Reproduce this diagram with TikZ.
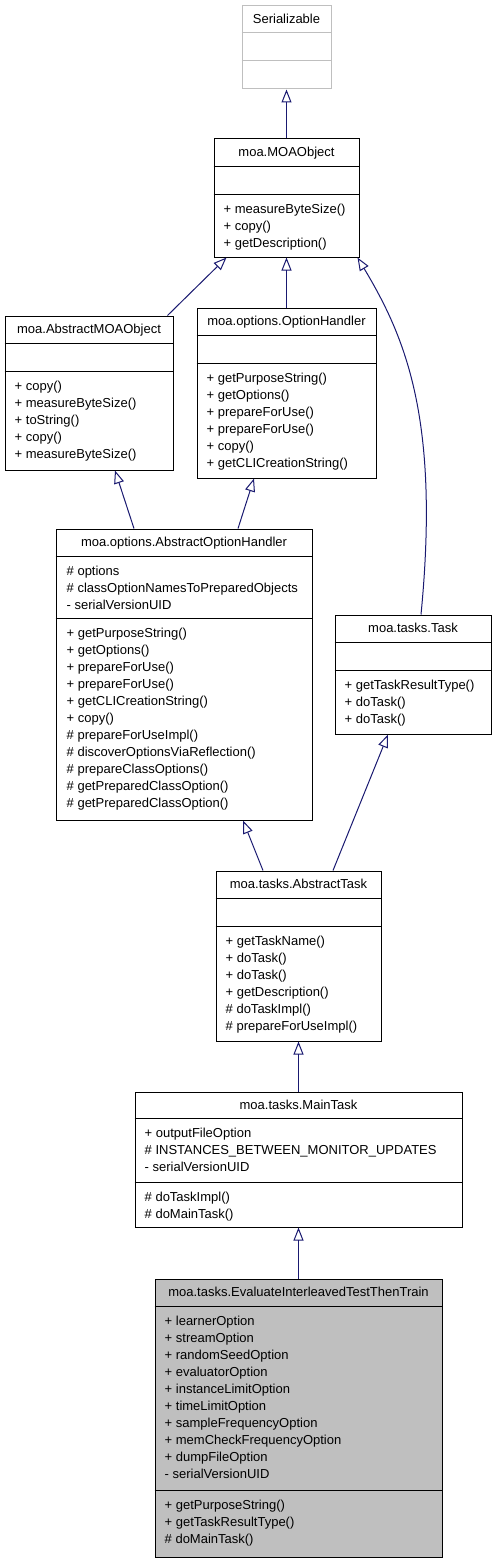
\documentclass[tikz,border=0pt]{standalone}
\usepackage{fontspec}
\setmainfont{Liberation Sans}
\usetikzlibrary{arrows.meta}
\definecolor{aresta}{HTML}{191970}
\definecolor{cinza}{HTML}{BFBFBF}

\begin{document}
\begin{tikzpicture}[x=1pt, y=-1pt, > = {Triangle[open, length=13pt, width=10pt]}, font=\fontsize{13pt}{17pt}\selectfont]
        \tikzstyle{classe}=[rectangle, draw, line width=1pt, inner sep=0pt]
        \tikzstyle{titulo}=[anchor=base, inner sep=0pt]
        \tikzstyle{membros}=[anchor=north west, align=left, inner sep=0pt]
        \tikzstyle{divisao}=[line width=1pt]
        \tikzstyle{heranca}=[->, draw=aresta, line width=1pt]

        \useasboundingbox (0,0) rectangle (496,1560);

            % Classes
            \node[classe, draw=cinza, minimum width=89pt, minimum height=83pt] (serializable) at (286.5,47.5) {};
            \node[classe, minimum width=145pt, minimum height=118pt] (moaobject) at (286.5,198) {};
            \node[classe, minimum width=168pt, minimum height=154pt] (abstractmoaobject) at (89,393) {};
            \node[classe, minimum width=179pt, minimum height=170pt] (optionhandler) at (286.5,393) {};
            \node[classe, minimum width=256pt, minimum height=291pt] (abstractoptionhandler) at (184,674.5) {};
            \node[classe, minimum width=156pt, minimum height=119pt] (task) at (413,674.5) {};
            \node[classe, minimum width=165pt, minimum height=170pt] (abstracttask) at (298.5,956) {};
            \node[classe, minimum width=327pt, minimum height=135pt] (maintask) at (298.5,1159.5) {};
            \node[classe, fill=cinza, minimum width=287pt, minimum height=278pt] (evaluate) at (298.5,1418) {};

            % Divisoes
            \draw[divisao, cinza] ([yshift=-27pt]serializable.north west) -- ([yshift=-27pt]serializable.north east)
                ([yshift=-55pt]serializable.north west) -- ([yshift=-55pt]serializable.north east);
            \draw[divisao] ([yshift=-28pt]moaobject.north west) -- ([yshift=-28pt]moaobject.north east)
                ([yshift=-56pt]moaobject.north west) -- ([yshift=-56pt]moaobject.north east);
            \draw[divisao] ([yshift=-28pt]abstractmoaobject.north west) -- ([yshift=-28pt]abstractmoaobject.north east)
                ([yshift=-56pt]abstractmoaobject.north west) -- ([yshift=-56pt]abstractmoaobject.north east);
            \draw[divisao] ([yshift=-28pt]optionhandler.north west) -- ([yshift=-28pt]optionhandler.north east)
                ([yshift=-56pt]optionhandler.north west) -- ([yshift=-56pt]optionhandler.north east);
            \draw[divisao] ([yshift=-28pt]abstractoptionhandler.north west) -- ([yshift=-28pt]abstractoptionhandler.north east)
                ([yshift=-90pt]abstractoptionhandler.north west) -- ([yshift=-90pt]abstractoptionhandler.north east);
            \draw[divisao] ([yshift=-28pt]task.north west) -- ([yshift=-28pt]task.north east)
                ([yshift=-56pt]task.north west) -- ([yshift=-56pt]task.north east);
            \draw[divisao] ([yshift=-28pt]abstracttask.north west) -- ([yshift=-28pt]abstracttask.north east)
                ([yshift=-56pt]abstracttask.north west) -- ([yshift=-56pt]abstracttask.north east);
            \draw[divisao] ([yshift=-27pt]maintask.north west) -- ([yshift=-27pt]maintask.north east)
                ([yshift=-91pt]maintask.north west) -- ([yshift=-91pt]maintask.north east);
            \draw[divisao] ([yshift=-28pt]evaluate.north west) -- ([yshift=-28pt]evaluate.north east)
                ([yshift=-212pt]evaluate.north west) -- ([yshift=-212pt]evaluate.north east);

            % Textos
            \node[titulo] (serializable-t) at ([yshift=-18.3pt]serializable.north) {Serializable};

            \node[titulo] (moaobject-t) at ([yshift=-18.3pt]moaobject.north) {moa.MOAObject};
            \node[membros] (moaobject-m) at ([xshift=10pt, yshift=-62.4pt]moaobject.north west)
                {\strut + measureByteSize()\\+ copy()\\+ getDescription()};

            \node[titulo] (abstractmoaobject-t) at ([yshift=-18.3pt]abstractmoaobject.north) {moa.AbstractMOAObject};
            \node[membros] (abstractmoaobject-m) at ([xshift=10pt, yshift=-62.4pt]abstractmoaobject.north west)
                {\strut + copy()\\+ measureByteSize()\\+ toString()\\+ copy()\\+ measureByteSize()};

            \node[titulo] (optionhandler-t) at ([yshift=-18.3pt]optionhandler.north) {moa.options.OptionHandler};
            \node[membros] (optionhandler-m) at ([xshift=10pt, yshift=-62.4pt]optionhandler.north west)
                {\strut + getPurposeString()\\+ getOptions()\\+ prepareForUse()\\+ prepareForUse()\\+ copy()\\+ getCLICreationString()};

            \node[titulo] (abstractoptionhandler-t) at ([yshift=-18.3pt]abstractoptionhandler.north) {moa.options.AbstractOptionHandler};
            \node[membros] (abstractoptionhandler-a) at ([xshift=11pt, yshift=-34.4pt]abstractoptionhandler.north west)
                {\strut \# options\\\# classOptionNamesToPreparedObjects\\- serialVersionUID};
            \node[membros] (abstractoptionhandler-m) at ([xshift=11pt, yshift=-96.4pt]abstractoptionhandler.north west)
                {\strut + getPurposeString()\\+ getOptions()\\+ prepareForUse()\\+ prepareForUse()\\+ getCLICreationString()\\+ copy()\\
                 \# prepareForUseImpl()\\\# discoverOptionsViaReflection()\\\# prepareClassOptions()\\\# getPreparedClassOption()\\\# getPreparedClassOption()};

            \node[titulo] (task-t) at ([yshift=-18.3pt]task.north) {moa.tasks.Task};
            \node[membros] (task-m) at ([xshift=10pt, yshift=-62.4pt]task.north west)
                {\strut + getTaskResultType()\\+ doTask()\\+ doTask()};

            \node[titulo] (abstracttask-t) at ([yshift=-18.3pt]abstracttask.north) {moa.tasks.AbstractTask};
            \node[membros] (abstracttask-m) at ([xshift=10pt, yshift=-62.4pt]abstracttask.north west)
                {\strut + getTaskName()\\+ doTask()\\+ doTask()\\+ getDescription()\\\# doTaskImpl()\\\# prepareForUseImpl()};

            \node[titulo] (maintask-t) at ([yshift=-18.3pt]maintask.north) {moa.tasks.MainTask};
            \node[membros] (maintask-a) at ([xshift=10pt, yshift=-33.4pt]maintask.north west)
                {\strut + outputFileOption\\\# INSTANCES\_BETWEEN\_MONITOR\_UPDATES\\- serialVersionUID};
            \node[membros] (maintask-m) at ([xshift=10pt, yshift=-97.4pt]maintask.north west)
                {\strut \# doTaskImpl()\\\# doMainTask()};

            \node[titulo] (evaluate-t) at ([yshift=-18.3pt]evaluate.north) {moa.tasks.EvaluateInterleavedTestThenTrain};
            \node[membros] (evaluate-a) at ([xshift=10pt, yshift=-34.4pt]evaluate.north west)
                {\strut + learnerOption\\+ streamOption\\+ randomSeedOption\\+ evaluatorOption\\+ instanceLimitOption\\
                 + timeLimitOption\\+ sampleFrequencyOption\\+ memCheckFrequencyOption\\+ dumpFileOption\\- serialVersionUID};
            \node[membros] (evaluate-m) at ([xshift=10pt, yshift=-218.4pt]evaluate.north west)
                {\strut + getPurposeString()\\+ getTaskResultType()\\\# doMainTask()};

            % Herancas
            \draw[heranca] (moaobject) -- (serializable);
            \draw[heranca] ([xshift=-6pt]abstractmoaobject.north east) -- ([xshift=13pt]moaobject.south west);
            \draw[heranca] (optionhandler) -- (moaobject);
            \draw[heranca] ([xshift=8pt]task.north) .. controls +(19,-195) and +(48,80) .. ([xshift=-2pt]moaobject.south east);
            \draw[heranca] ([xshift=-50pt]abstractoptionhandler.north) -- ([xshift=26pt]abstractmoaobject.south);
            \draw[heranca] ([xshift=54pt]abstractoptionhandler.north) -- ([xshift=-32.5pt]optionhandler.south);
            \draw[heranca] ([xshift=-35.5pt]abstracttask.north) -- ([xshift=59pt]abstractoptionhandler.south);
            \draw[heranca] ([xshift=34.5pt]abstracttask.north) -- ([xshift=-25pt]task.south);
            \draw[heranca] (maintask) -- (abstracttask);
            \draw[heranca] (evaluate) -- (maintask);
\end{tikzpicture}
\end{document}
